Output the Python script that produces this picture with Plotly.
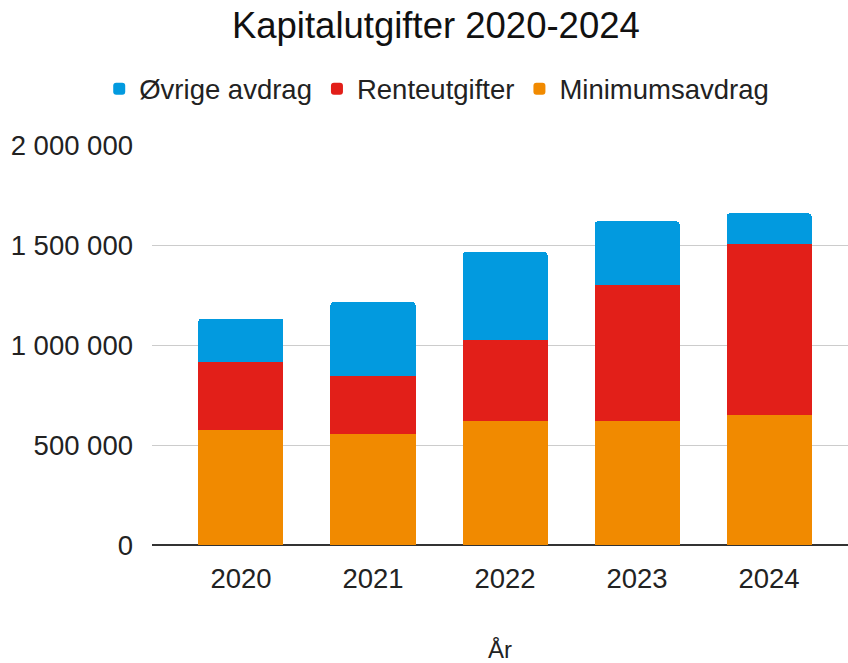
import plotly.graph_objects as go

years = ["2020", "2021", "2022", "2023", "2024"]
minimumsavdrag = [574000, 557000, 620000, 620000, 650000]
renteutgifter = [341000, 286000, 403000, 682000, 853000]
ovrige_avdrag = [216000, 371000, 441000, 316000, 155000]

FONT = "Liberation Sans, Arial, sans-serif"

fig = go.Figure()
fig.add_trace(go.Bar(x=years, y=minimumsavdrag, name="Minimumsavdrag", marker_color="#F18A00", marker_line_width=0))
fig.add_trace(go.Bar(x=years, y=renteutgifter, name="Renteutgifter", marker_color="#E21F19", marker_line_width=0))
fig.add_trace(go.Bar(x=years, y=ovrige_avdrag, name="Øvrige avdrag", marker_color="#029ADF", marker_line_width=0))

fig.update_layout(
    width=848, height=663,
    barmode="stack", bargap=0.356, barcornerradius=3,
    separators=", ",
    paper_bgcolor="white", plot_bgcolor="white",
    font=dict(family=FONT, size=27.5, color="#222222"),
    margin=dict(l=152, r=0, t=145, b=118, autoexpand=False),
    title=dict(text="Kapitalutgifter 2020-2024", x=0.514, xanchor="center", xref="container",
               y=0.962, yanchor="middle", yref="container", font=dict(size=36.5, color="#111111")),
    legend=dict(orientation="h", traceorder="reversed", x=0.515, xanchor="center", xref="container",
                y=0.866, yanchor="middle", yref="container", font=dict(size=27.5, color="#222222"),
                itemclick=False),
    showlegend=True,
)
fig.update_xaxes(range=[-0.674, 4.598], showgrid=False, showline=False, ticks="", automargin=False,
                 title=dict(text="År", font=dict(size=24), standoff=63), ticklabelstandoff=14)
fig.update_yaxes(range=[0, 2000000], tickvals=[0, 500000, 1000000, 1500000, 2000000],
                 tickformat=",d", showgrid=True, gridcolor="#cccccc", gridwidth=1, automargin=False,
                 zeroline=True, zerolinecolor="#333333", zerolinewidth=1.5, ticks="",
                 ticklabelstandoff=18)

fig.write_html("out.html", config={"displayModeBar": False},
               post_script="document.body.style.margin='0';")
